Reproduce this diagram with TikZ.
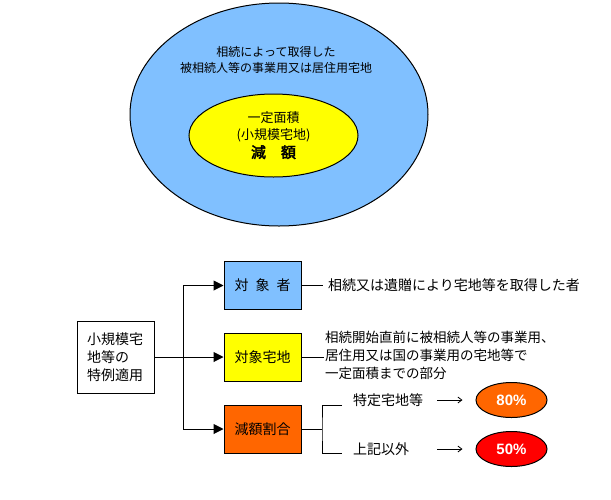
\documentclass[tikz,border=0pt]{standalone}
\usepackage{fontspec}
\setmainfont{Noto Sans CJK JP}[AutoFakeBold=2.5]
\newfontfamily\pctfont{Liberation Sans}
\usetikzlibrary{arrows.meta,positioning,shapes.geometric}
\definecolor{SkyFill}{HTML}{80C0FF}
\definecolor{LemonFill}{HTML}{FFFF00}
\definecolor{RustFill}{HTML}{FF6600}
\definecolor{RedFill}{HTML}{FF0000}
\tikzset{
  wire/.style={draw=black,line width=1pt},
  feed/.style={wire,-{Triangle[length=10pt,width=10pt]}},
  pointer/.style={draw=black,line width=0.8pt,-{Straight Barb[length=4pt,width=6pt]}},
  zone/.style={ellipse,draw=black,line width=1pt,inner sep=0pt,align=center},
  card/.style={draw=black,line width=1pt,minimum width=77pt,minimum height=48pt,
               inner sep=0pt,font=\fontsize{14}{18}\selectfont},
  tag/.style={draw=black,line width=1pt,fill=white,minimum width=77pt,minimum height=72pt,
              text width=57pt,align=left,inner sep=0pt,font=\fontsize{14}{18}\selectfont},
  note/.style={inner sep=2pt,font=\fontsize{14}{18}\selectfont},
  badge/.style={ellipse,draw=black,line width=1pt,minimum width=71pt,minimum height=35pt,
                inner sep=0pt,text=white,font=\pctfont\bfseries\fontsize{15}{17}\selectfont},
}
\begin{document}
\begin{tikzpicture}[x=1pt,y=-1pt]
  \useasboundingbox (0,0) rectangle (611,499);
  % upper figure
  \node[zone,fill=SkyFill,minimum width=298pt,minimum height=223pt] (outer) at (279,114.5) {};
  \node[inner sep=0pt,align=center,font=\fontsize{12}{16}\selectfont] (heirland) at (276,60)
    {相続によって取得した\\被相続人等の事業用又は居住用宅地};
  \node[zone,fill=LemonFill,minimum width=169pt,minimum height=83pt,
        font=\fontsize{13}{17}\selectfont] (inner) at (273.5,135.5)
    {一定面積\\(小規模宅地)\\[1pt]{\fontsize{15}{17}\selectfont\bfseries 減　額}};

  % lower figure
  \node[tag] (spec) at (115.5,357) {小規模宅\\地等の\\特例適用};
  \node[card,fill=SkyFill] (target) at (262.5,285.5) {対\hspace{7pt}象\hspace{7pt}者};
  \node[card,fill=LemonFill] (site) at (262.5,357) {対象宅地};
  \node[card,fill=RustFill] (rate) at (262.5,429) {減額割合};
  \coordinate (fork) at (183,357);
  \draw[wire] (spec) -- (fork);
  \draw[feed] (fork) |- (target);
  \draw[feed] (fork) -- (site);
  \draw[feed] (fork) |- (rate);

  \node[note,anchor=west,inner xsep=5pt] (whoText) at (323,285.5)
    {相続又は遺贈により宅地等を取得した者};
  \draw[wire] (target) -- (whoText);
  \node[note,anchor=west,inner xsep=1pt,align=left,font=\fontsize{13.5}{18}\selectfont]
    (siteText) at (324,355)
    {相続開始直前に被相続人等の事業用、\\居住用又は国の事業用の宅地等で\\一定面積までの部分};
  \draw[wire] (site.east) -- (site.east -| siteText.west);

  \coordinate (split) at (322,429);
  \coordinate (upper) at (342,405);
  \coordinate (lower) at (342,453);
  \draw[wire] (rate) -- (split);
  \draw[wire] (upper) -| (split) |- (lower);
  \node[note,anchor=west] (special) at (351,400) {特定宅地等};
  \node[note,anchor=west] (others) at (351,449) {上記以外};
  \node[badge,fill=RustFill] (p80) at (511.5,400) {80\%};
  \node[badge,fill=RedFill] (p50) at (511.5,449) {50\%};
  \draw[pointer,shorten <=12pt,shorten >=13pt] (special) -- (p80);
  \draw[pointer,shorten <=26pt,shorten >=13pt] (others) -- (p50);
\end{tikzpicture}
\end{document}
